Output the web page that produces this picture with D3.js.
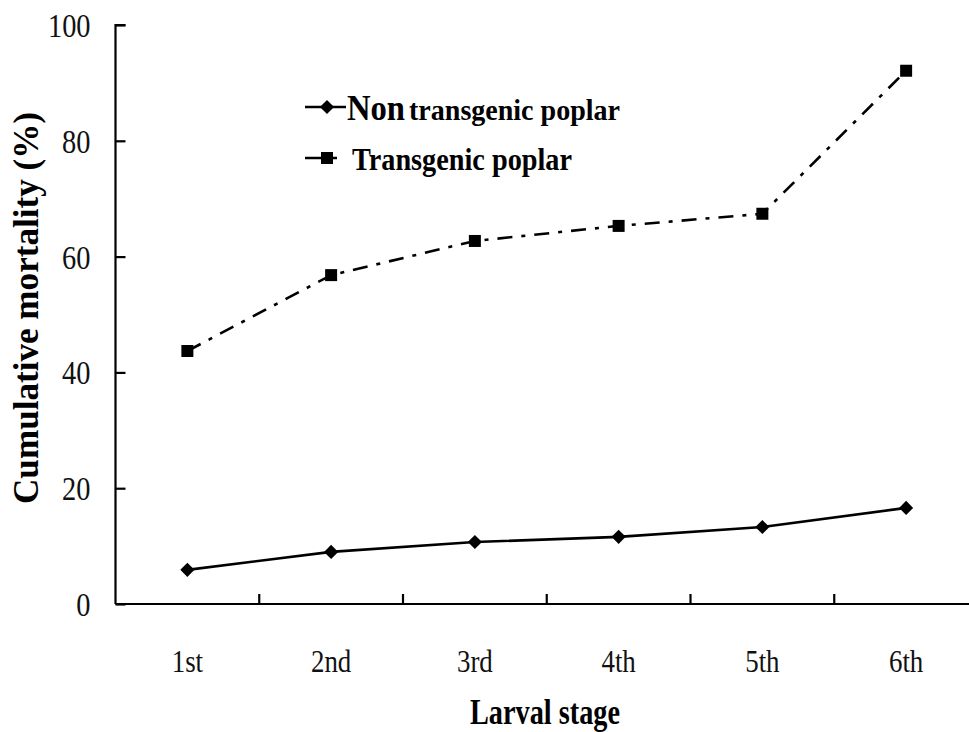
<!DOCTYPE html>
<html>
<head>
<meta charset="utf-8">
<script src="https://cdn.jsdelivr.net/npm/d3@7"></script>
<style>
  body { margin: 0; background: #fff; }
  svg { display: block; font-family: "Liberation Serif", "Times New Roman", serif; }
</style>
</head>
<body>
<svg id="chart" width="969" height="732"></svg>
<script>
// data
const stages = ['1st', '2nd', '3rd', '4th', '5th', '6th']
const nonTransgenic = [5.9, 9.0, 10.7, 11.6, 13.3, 16.6]
const transgenic = [43.7, 56.8, 62.7, 65.3, 67.4, 92.1]
const yTicks = [0, 20, 40, 60, 80, 100]

const serif = '"Liberation Serif", "Times New Roman", serif'
const svg = d3.select('#chart')

// plot area (right end of the band range runs past the window, like the original)
const plotLeft = 115.5
const plotRight = 978
const plotTop = 25
const plotBottom = 604

const x = d3.scaleBand().domain(stages).range([plotLeft, plotRight]).padding(0)
const y = d3.scaleLinear().domain([0, 100]).range([plotBottom, plotTop])
const cx = d => x(d) + x.bandwidth() / 2

// squeeze glyphs horizontally, the source figure looks condensed
function condense (sel, k) {
  sel.each(function () {
    const w = this.getComputedTextLength()
    d3.select(this).attr('textLength', w * k).attr('lengthAdjust', 'spacingAndGlyphs')
  })
}

// y axis, ticks point inward
const yAxis = svg.append('g')
  .attr('class', 'y axis')
  .attr('transform', `translate(${plotLeft},0)`)
  .call(d3.axisRight(y).tickValues(yTicks).tickSize(10).tickFormat(d3.format('d')))
  .attr('font-family', serif)
yAxis.select('.domain').attr('d', `M10,${plotTop}H0V${plotBottom}`).attr('stroke-width', 2.2)
yAxis.selectAll('.tick line').attr('stroke-width', 2.2)
yAxis.selectAll('.tick text')
  .attr('x', -25)
  .attr('dy', '0.35em')
  .attr('text-anchor', 'end')
  .style('font-size', '33px')
  .style('fill', '#111')
  .call(condense, 0.86)

// x axis, ticks on the band boundaries pointing up
const xAxis = svg.append('g')
  .attr('class', 'x axis')
  .attr('transform', `translate(0,${plotBottom})`)
  .call(d3.axisBottom(x).tickSize(0))
  .attr('font-family', serif)
xAxis.select('.domain').attr('d', `M${plotLeft},0H969`).attr('stroke-width', 2.2)
xAxis.selectAll('.tick text')
  .attr('y', 68)
  .attr('dy', 0)
  .style('font-size', '32px')
  .style('fill', '#111')
  .call(condense, 0.84)
xAxis.selectAll('line.band')
  .data(stages.slice(1))
  .join('line')
  .attr('class', 'band')
  .attr('x1', d => x(d)).attr('x2', d => x(d))
  .attr('y1', 0).attr('y2', -10)
  .attr('stroke', '#000')
  .attr('stroke-width', 2.2)

// axis titles
svg.append('text')
  .attr('transform', 'translate(38,308) rotate(-90)')
  .attr('text-anchor', 'middle')
  .attr('textLength', 392)
  .attr('lengthAdjust', 'spacingAndGlyphs')
  .style('font-size', '35px')
  .style('font-weight', 'bold')
  .text('Cumulative mortality (%)')

svg.append('text')
  .attr('x', 545)
  .attr('y', 724)
  .attr('text-anchor', 'middle')
  .attr('textLength', 150)
  .attr('lengthAdjust', 'spacingAndGlyphs')
  .style('font-size', '36px')
  .style('font-weight', 'bold')
  .text('Larval stage')

// series
const line = d3.line().x((d, i) => cx(stages[i])).y(d => y(d))

svg.append('path')
  .datum(transgenic)
  .attr('d', line)
  .attr('fill', 'none')
  .attr('stroke', '#000')
  .attr('stroke-width', 2.6)
  .attr('stroke-dasharray', '15,9,4,9')

svg.append('path')
  .datum(nonTransgenic)
  .attr('d', line)
  .attr('fill', 'none')
  .attr('stroke', '#000')
  .attr('stroke-width', 2.6)

const diamond = d3.symbol().type(d3.symbolSquare).size(100)
const square = d3.symbol().type(d3.symbolSquare).size(144)

svg.selectAll('path.nt')
  .data(nonTransgenic)
  .join('path')
  .attr('class', 'nt')
  .attr('transform', (d, i) => `translate(${cx(stages[i])},${y(d)}) rotate(45)`)
  .attr('d', diamond)
  .attr('fill', '#000')

svg.selectAll('path.tg')
  .data(transgenic)
  .join('path')
  .attr('class', 'tg')
  .attr('transform', (d, i) => `translate(${cx(stages[i])},${y(d)})`)
  .attr('d', square)
  .attr('fill', '#000')

// legend
const lg = svg.append('g')

lg.append('line')
  .attr('x1', 305).attr('x2', 346).attr('y1', 107).attr('y2', 107)
  .attr('stroke', '#000').attr('stroke-width', 2.6)
lg.append('path')
  .attr('transform', 'translate(327,107) rotate(45)')
  .attr('d', diamond)
  .attr('fill', '#000')
const t1 = lg.append('text')
  .attr('x', 347)
  .attr('y', 120)
  .style('font-weight', 'bold')
t1.append('tspan').style('font-size', '36px').attr('textLength', 58).attr('lengthAdjust', 'spacingAndGlyphs').text('Non')
t1.append('tspan').attr('x', 409).style('font-size', '30px').attr('textLength', 211).attr('lengthAdjust', 'spacingAndGlyphs').text('transgenic poplar')

lg.append('line')
  .attr('x1', 305).attr('x2', 339).attr('y1', 158).attr('y2', 158)
  .attr('stroke', '#000').attr('stroke-width', 2.6)
  .attr('stroke-dasharray', '17,10,5,10')
lg.append('path')
  .attr('transform', 'translate(327,158)')
  .attr('d', square)
  .attr('fill', '#000')
lg.append('text')
  .attr('x', 352)
  .attr('y', 170)
  .attr('textLength', 220)
  .attr('lengthAdjust', 'spacingAndGlyphs')
  .style('font-size', '32px')
  .style('font-weight', 'bold')
  .text('Transgenic poplar')
</script>
</body>
</html>
